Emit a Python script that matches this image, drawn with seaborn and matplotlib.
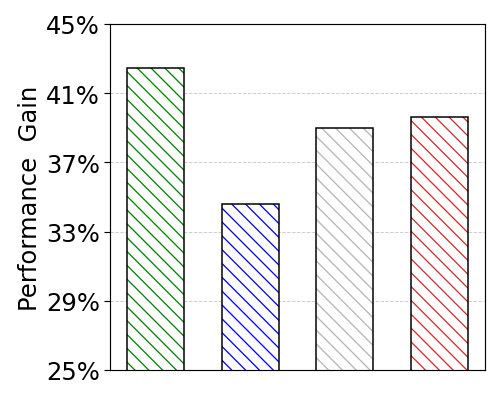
import matplotlib

matplotlib.use("Agg")
import matplotlib.pyplot as plt
import pandas as pd
import seaborn as sns

sns.set_style("ticks")
plt.rcParams["font.family"] = ["DejaVu Sans"]
plt.rcParams["hatch.linewidth"] = 1.1
plt.rcParams["text.color"] = "black"
plt.rcParams["axes.labelcolor"] = "black"
plt.rcParams["ytick.color"] = "black"

# values
methods = ["M1", "M2", "M3", "M4"]
gains = [42.45, 34.6, 39.0, 39.65]
colors = ["green", "blue", "#b5b5b5", "#d22b2b"]
yticks = [25, 29, 33, 37, 41, 45]

df = pd.DataFrame({"method": methods, "gain": gains})

fig = plt.figure(figsize=(6, 4.8), dpi=83.33)
ax = fig.add_axes([0.22, 0.0725, 0.75, 0.865])

# colored hatch layer
sns.barplot(data=df, x="method", y="gain", hue="method", palette=colors,
            legend=False, width=0.6, ax=ax, zorder=2)
for p, c in zip(ax.patches, colors):
    p.set_facecolor("white")
    p.set_edgecolor(c)
    p.set_hatch("\\\\")
    p.set_linewidth(0)

# black outline on top
sns.barplot(data=df, x="method", y="gain", fill=False, color="black",
            width=0.6, linewidth=1.3, ax=ax, zorder=3)

ax.set_ylim(25, 45)
ax.set_xlim(-0.48, 3.48)
ax.set_yticks(yticks)
ax.set_yticklabels([f"{v}%" for v in yticks], fontsize=21)
ax.set_xticks([])
ax.set_xlabel("")
ax.set_ylabel("Performance  Gain", fontsize=21)
ax.yaxis.grid(True, linestyle="--", color="#cccccc", linewidth=0.8, zorder=0)
ax.set_axisbelow(True)
for s in ax.spines.values():
    s.set_visible(True)
    s.set_color("black")
    s.set_linewidth(1.0)
ax.tick_params(axis="y", length=5, width=1.0, color="black", labelcolor="black")

fig.savefig("out.png", dpi=83.33)
